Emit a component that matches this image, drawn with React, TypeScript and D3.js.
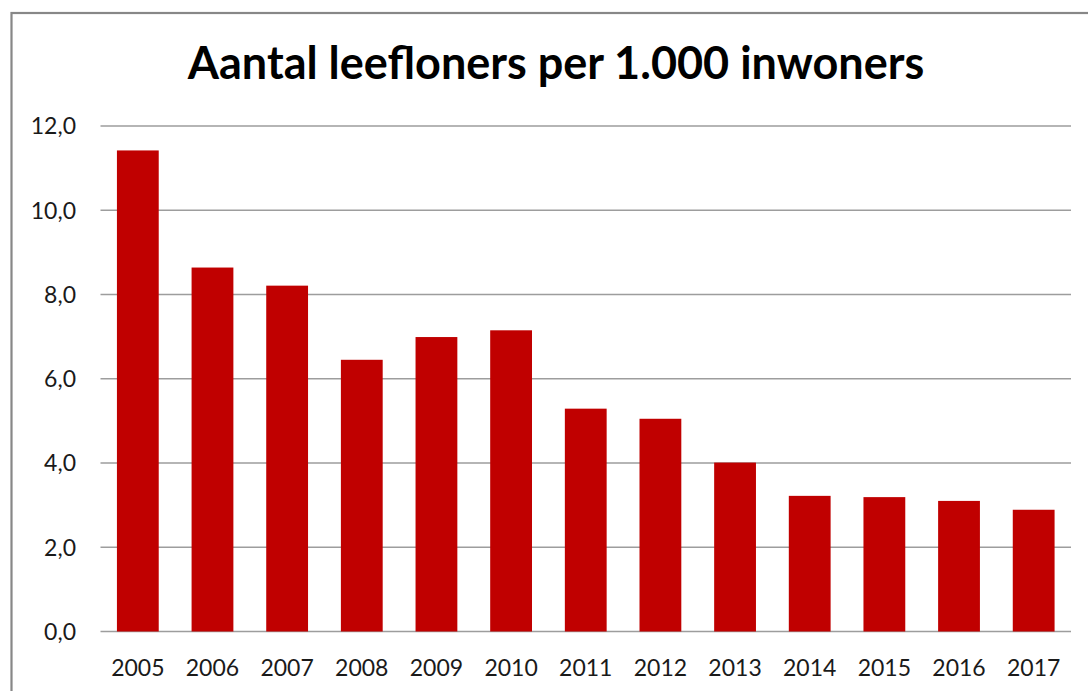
import * as d3 from "d3";
import { useEffect, useRef } from "react";

const years: string[] = ["2005", "2006", "2007", "2008", "2009", "2010", "2011", "2012", "2013", "2014", "2015", "2016", "2017"];
const values: number[] = [11.42, 8.64, 8.21, 6.45, 6.99, 7.15, 5.29, 5.05, 4.01, 3.22, 3.19, 3.1, 2.89];
const yTicks: number[] = [0, 2, 4, 6, 8, 10, 12];
const title = "Aantal leefloners per 1.000 inwoners";

const W = 1088;
const H = 691;

const App = () => {
  const chartRef = useRef<SVGSVGElement | null>(null);

  useEffect(() => {
    drawChart();
  }, []);

  const drawChart = () => {
    if (!chartRef.current) return;
    d3.select(chartRef.current).selectAll("*").remove();

    const svg = d3.select(chartRef.current);
    const plot = { left: 100.5, right: 1071, top: 126, bottom: 631.5 };
    const font = "Lato, 'Open Sans', sans-serif";

    // chart border (only top + left visible, rest is cropped)
    svg
      .append("rect")
      .attr("x", 11.5)
      .attr("y", 13)
      .attr("width", W + 20)
      .attr("height", H + 20)
      .attr("fill", "#fff")
      .attr("stroke", "#878787")
      .attr("stroke-width", 2.2);

    const xScale = d3.scaleBand().domain(years).range([plot.left, plot.right]).paddingInner(0.44).paddingOuter(0.22);
    const yScale = d3.scaleLinear().domain([0, 12]).range([plot.bottom, plot.top]);

    // title
    svg
      .append("text")
      .attr("x", 556)
      .attr("y", 79)
      .attr("text-anchor", "middle")
      .style("font-family", font)
      .style("font-weight", "bold")
      .style("font-size", "45px")
      .attr("fill", "#000")
      .text(title);

    // gridlines
    svg
      .append("g")
      .selectAll("line")
      .data(yTicks)
      .join("line")
      .attr("x1", plot.left)
      .attr("x2", plot.right)
      .attr("y1", (d) => yScale(d))
      .attr("y2", (d) => yScale(d))
      .attr("stroke", "#9d9d9d")
      .attr("stroke-width", 1.4);

    // y labels
    svg
      .append("g")
      .selectAll("text")
      .data(yTicks)
      .join("text")
      .attr("x", 76)
      .attr("y", (d) => yScale(d))
      .attr("dy", "0.36em")
      .attr("text-anchor", "end")
      .style("font-family", font)
      .style("font-size", "23px")
      .attr("fill", "#1a1a1a")
      .text((d) => d.toFixed(1).replace(".", ","));

    // bars
    svg
      .append("g")
      .selectAll("rect")
      .data(values)
      .join("rect")
      .attr("x", (d, i) => xScale(years[i])!)
      .attr("y", (d) => yScale(d))
      .attr("width", xScale.bandwidth())
      .attr("height", (d) => yScale(0) - yScale(d))
      .attr("fill", "#C00000");

    // x labels
    svg
      .append("g")
      .selectAll("text")
      .data(years)
      .join("text")
      .attr("x", (d) => xScale(d)! + xScale.bandwidth() / 2)
      .attr("y", 675.5)
      .attr("text-anchor", "middle")
      .style("font-family", font)
      .style("font-size", "23px")
      .attr("fill", "#1a1a1a")
      .text((d) => d);
  };

  return (
    <svg
      ref={chartRef}
      width={W}
      height={H}
      style={{ position: "absolute", left: 0, top: 0, background: "#fff" }}
    />
  );
};

export default App;
